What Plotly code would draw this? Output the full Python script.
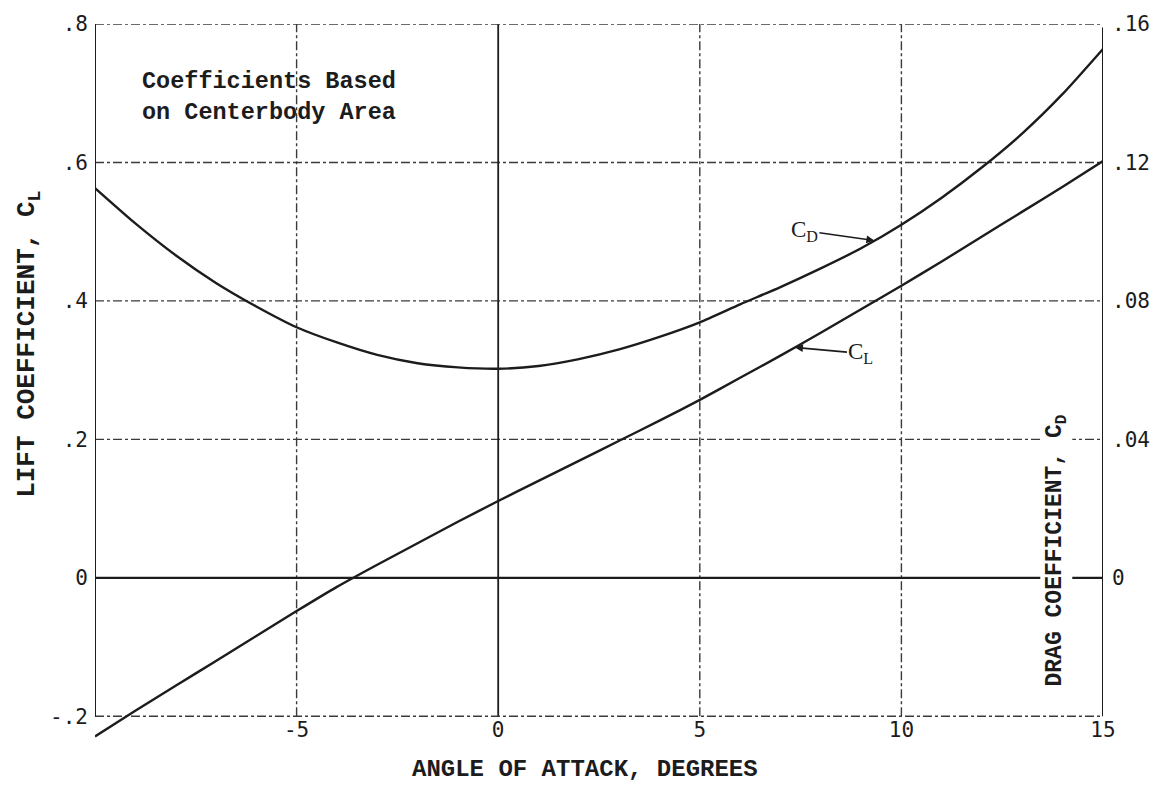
import numpy as np
import plotly.graph_objects as go

# Angle of attack (deg) and lift coefficient
alpha_cl = [-10, -9, -8, -7, -6, -5, -4, -3, -2, -1, 0, 1, 2, 3, 4, 5, 6, 7,
            8, 9, 10, 11, 12, 13, 14, 15]
cl = [-0.229, -0.192, -0.156, -0.120, -0.084, -0.048, -0.013, 0.019, 0.050,
      0.081, 0.111, 0.140, 0.169, 0.198, 0.227, 0.257, 0.289, 0.321, 0.354,
      0.388, 0.422, 0.457, 0.493, 0.529, 0.565, 0.602]

# Angle of attack (deg) and drag coefficient
alpha_cd = [-10, -9, -8, -7, -6, -5, -4, -3, -2, -1, 0, 1, 2, 3, 4, 5, 6, 7,
            8, 9, 10, 11, 12, 13, 14, 15]
cd = [0.1126, 0.1024, 0.0932, 0.0852, 0.0784, 0.0724, 0.0680, 0.0644,
      0.0620, 0.0608, 0.0604, 0.0612, 0.0632, 0.0660, 0.0696, 0.0738,
      0.0790, 0.0840, 0.0894, 0.0952, 0.1020, 0.1098, 0.1186, 0.1284,
      0.1398, 0.1528]

x_ticks = [-5, 0, 5, 10, 15]
x_ticktext = ["-5", "0", "5", "10", "15"]
cl_ticks = [-0.2, 0, 0.2, 0.4, 0.6, 0.8]
cl_ticktext = ["-.2", "0", ".2", ".4", ".6", ".8"]
cd_ticks = [0, 0.04, 0.08, 0.12, 0.16]
cd_ticktext = ["0", ".04", ".08", ".12", ".16"]

X_MIN, X_MAX = -10, 15
Y_MIN, Y_MAX = -0.2, 0.8
CD_SCALE = 0.2  # drag axis = lift axis * 0.2

INK = "#1c1c1c"
GRID = "#3a3a3a"
TICK_FONT = dict(family="DejaVu Sans Mono", size=21, color=INK)
LABEL_FONT = dict(family="Liberation Mono", size=22, color=INK)

fig = go.Figure()

fig.add_trace(go.Scatter(
    x=alpha_cd, y=cd, mode="lines", yaxis="y2", name="CD",
    line=dict(color=INK, width=2.4, shape="spline", smoothing=0.6),
))
fig.add_trace(go.Scatter(
    x=alpha_cl, y=cl, mode="lines", name="CL",
    line=dict(color=INK, width=2.4, shape="spline", smoothing=0.6),
))

shapes = []


def hline(y, x0=X_MIN, x1=X_MAX, dash="dashdot", width=1.4, color=GRID):
    shapes.append(dict(type="line", xref="x", yref="y", x0=x0, x1=x1,
                       y0=y, y1=y, layer="below",
                       line=dict(color=color, width=width, dash=dash)))


def vline(x, y0=Y_MIN, y1=Y_MAX, dash="dashdot", width=1.4, color=GRID):
    shapes.append(dict(type="line", xref="x", yref="y", x0=x, x1=x,
                       y0=y0, y1=y1, layer="below",
                       line=dict(color=color, width=width, dash=dash)))


# grid
for gy in [0.2, 0.4, 0.6]:
    hline(gy)
for gx in [-5, 5, 10]:
    vline(gx)
vline(0, dash="solid", width=1.8, color=INK)
hline(0, dash="solid", width=2.2, color=INK)
# frame
hline(Y_MAX, dash="dashdot", width=1.6)
hline(Y_MIN, dash="dashdot", width=1.6)
vline(X_MIN, dash="solid", width=2, color=INK)
vline(X_MAX, y0=Y_MIN, y1=Y_MAX - 0.005, dash="solid", width=2, color=INK)

y_lo = -0.24

annotations = [
    dict(text="Coefficients Based<br>on Centerbody Area", x=-8.89, y=0.695,
         xref="x", yref="y", xanchor="left", yanchor="middle", align="left",
         showarrow=False, font=dict(LABEL_FONT, size=23.5, weight="bold")),
    dict(text="LIFT COEFFICIENT, C<sub>L</sub>", x=-0.066, y=0.555,
         xref="paper", yref="paper", xanchor="center", yanchor="middle",
         textangle=-90, showarrow=False,
         font=dict(LABEL_FONT, size=26, weight="bold")),
    dict(text="DRAG COEFFICIENT, C<sub>D</sub>", x=13.85, y=0.039,
         xref="x", yref="y", xanchor="center", yanchor="middle",
         textangle=-90, showarrow=False, bgcolor="white",
         font=dict(LABEL_FONT, size=23, weight="bold")),
    dict(text="ANGLE OF ATTACK, DEGREES", x=2.15, y=-0.036,
         xref="x", yref="paper", xanchor="center", yanchor="middle",
         showarrow=False, font=dict(LABEL_FONT, size=24, weight="bold")),
]

# curve labels with leader arrows
a_cd = 9.33
annotations.append(dict(
    text="C<sub>D</sub>", x=a_cd, y=float(np.interp(a_cd, alpha_cd, cd)),
    xref="x", yref="y2", ax=-70, ay=-10, showarrow=True, arrowhead=2,
    arrowsize=1, arrowwidth=1.6, arrowcolor=INK, standoff=0,
    font=dict(family="Liberation Serif", size=23, color=INK)))
a_cl = 7.36
annotations.append(dict(
    text="C<sub>L</sub>", x=a_cl, y=float(np.interp(a_cl, alpha_cl, cl)),
    xref="x", yref="y", ax=66, ay=6, showarrow=True, arrowhead=2,
    arrowsize=1, arrowwidth=1.6, arrowcolor=INK, standoff=0,
    font=dict(family="Liberation Serif", size=23, color=INK)))

fig.update_layout(
    width=1167, height=786,
    margin=dict(l=95, r=64, t=20, b=42),
    paper_bgcolor="white", plot_bgcolor="white",
    showlegend=False,
    shapes=shapes,
    annotations=annotations,
    xaxis=dict(range=[X_MIN, X_MAX], tickvals=x_ticks, ticktext=x_ticktext,
               showgrid=False, zeroline=False, showline=False, ticks="",
               ticklabelposition="inside", ticklabeloverflow="allow",
               tickfont=TICK_FONT),
    yaxis=dict(range=[y_lo, Y_MAX], tickvals=cl_ticks, ticktext=cl_ticktext,
               showgrid=False, zeroline=False, showline=False, ticks="",
               ticklabelstandoff=6, tickfont=TICK_FONT),
    yaxis2=dict(range=[y_lo * CD_SCALE, Y_MAX * CD_SCALE], tickvals=cd_ticks,
                ticktext=cd_ticktext, overlaying="y", side="right",
                showgrid=False, zeroline=False, showline=False, ticks="",
                ticklabelstandoff=8, tickfont=TICK_FONT),
)

fig.write_html("out.html")
